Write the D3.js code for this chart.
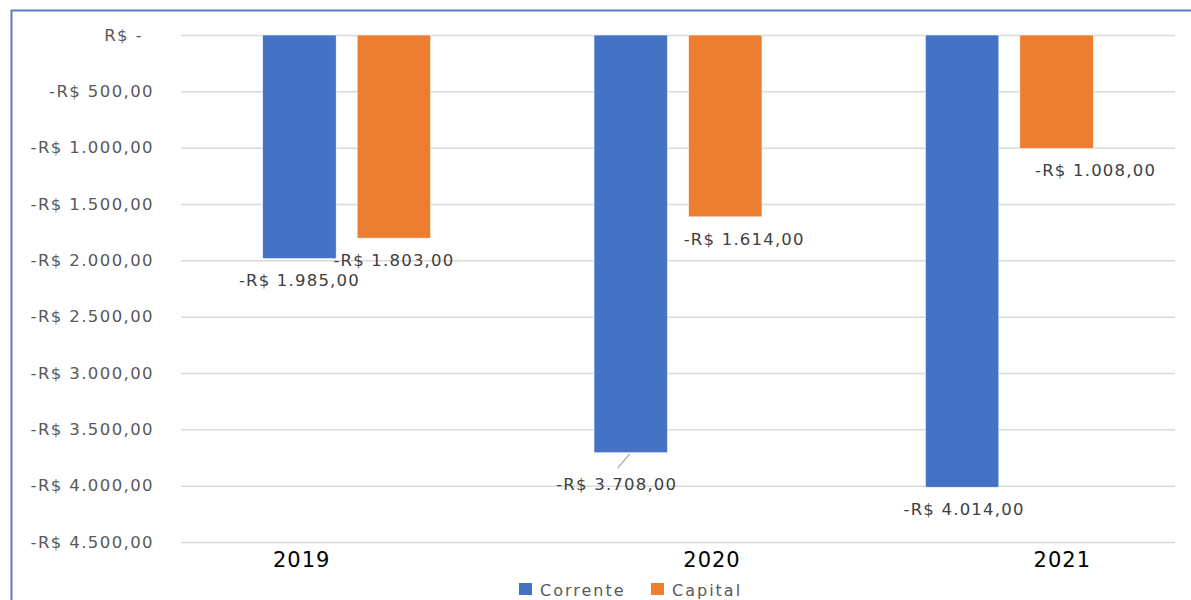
<!DOCTYPE html>
<html>
<head>
<meta charset="utf-8">
<script src="https://cdn.jsdelivr.net/npm/d3@7"></script>
<style>
  body { margin: 0; background: #fff; }
  svg { display: block; font-family: "DejaVu Sans", sans-serif; }
</style>
</head>
<body>
<div id="chart"></div>
<script>
// values
var years = ["2019", "2020", "2021"];
var series = ["Corrente", "Capital"];
var corrente = [-1985, -3708, -4014];
var capital = [-1803, -1614, -1008];
var yTicks = [0, -500, -1000, -1500, -2000, -2500, -3000, -3500, -4000, -4500];
var colors = ["#4472C4", "#ED7D31"];

// label nudges (the original has some labels dragged by hand)
var labelShift = {
  "Corrente-2019": [0, 0], "Capital-2019": [0, 0],
  "Corrente-2020": [-14, 9], "Capital-2020": [19, 0],
  "Corrente-2021": [2, 0], "Capital-2021": [39, 0]
};
var yearShift = [-45, 34, 53];

var width = 1191, height = 600;
var margin = {top: 35, right: 16, bottom: 58, left: 181};

var svg = d3.select("#chart").append("svg")
  .attr("width", width)
  .attr("height", height);

// chart frame (blue border, top and left visible)
svg.append("path")
  .attr("d", "M11.5,600 L11.5,10.5 L1191,10.5")
  .attr("fill", "none")
  .attr("stroke", "#5B7BC6")
  .attr("stroke-width", 2);

var x0 = d3.scaleBand()
  .domain(years)
  .range([margin.left, width - margin.right]);

var x1 = d3.scaleBand()
  .domain(series)
  .range([0, x0.bandwidth()])
  .paddingInner(0.222)
  .paddingOuter(0.864);

var y = d3.scaleLinear()
  .domain([0, -4500])
  .range([margin.top, height - margin.bottom]);

function money(v) {
  if (v === 0) return "R$ -";
  var s = d3.format(",.2f")(Math.abs(v)).replace(/,/g, "#").replace(".", ",").replace(/#/g, ".");
  return (v < 0 ? "-" : "") + "R$ " + s;
}

// gridlines + y labels
var yAxis = svg.append("g")
  .attr("transform", "translate(" + margin.left + ",0)")
  .call(d3.axisLeft(y).tickValues(yTicks).tickSize(-(width - margin.right - margin.left)).tickFormat(money).tickPadding(27));
yAxis.attr("font-family", null).attr("font-size", null);
yAxis.select(".domain").remove();
yAxis.selectAll(".tick line").attr("stroke", "#D9D9D9").attr("stroke-width", 1.5);
yAxis.selectAll(".tick text")
  .attr("fill", "#595959")
  .style("font-size", "16.5px")
  .style("letter-spacing", "1.4px")
  .attr("dx", function(d) { return d === 0 ? -11 : 0; });

var data = [];
years.forEach(function(yr, i) {
  data.push({year: yr, key: "Corrente", value: corrente[i], ci: 0});
  data.push({year: yr, key: "Capital", value: capital[i], ci: 1});
});

var bars = svg.append("g");
bars.selectAll("rect")
  .data(data)
  .enter().append("rect")
  .attr("x", function(d) { return x0(d.year) + x1(d.key); })
  .attr("y", y(0))
  .attr("width", x1.bandwidth())
  .attr("height", function(d) { return y(d.value) - y(0); })
  .attr("fill", function(d) { return colors[d.ci]; })
  .attr("stroke", "#fff")
  .attr("stroke-width", 0.6);

// data labels
var labels = svg.append("g")
  .style("font-size", "16.5px")
  .style("letter-spacing", "1.2px")
  .attr("fill", "#404040")
  .attr("text-anchor", "middle");

data.forEach(function(d) {
  var s = labelShift[d.key + "-" + d.year];
  var cx = x0(d.year) + x1(d.key) + x1.bandwidth() / 2;
  var lx = cx + s[0], ly = y(d.value) + 22 + s[1];
  if (s[1] > 0) {
    // leader line for the moved label
    labels.append("line")
      .attr("x1", cx - 1).attr("y1", y(d.value) + 1)
      .attr("x2", lx + 1).attr("y2", ly - 16)
      .attr("stroke", "#A6A6A6").attr("stroke-width", 1.2);
  }
  labels.append("text")
    .attr("x", lx)
    .attr("y", ly)
    .attr("dy", "0.35em")
    .text(money(d.value));
});

// year labels
svg.append("g").selectAll("text")
  .data(years)
  .enter().append("text")
  .attr("x", function(d, i) { return x0(d) + x0.bandwidth() / 2 + yearShift[i]; })
  .attr("y", 567)
  .attr("text-anchor", "middle")
  .attr("fill", "#000")
  .style("font-size", "21px")
  .style("letter-spacing", "1px")
  .text(function(d) { return d; });

// legend
var legend = svg.append("g").attr("transform", "translate(519,583)");
var lx = [0, 132];
series.forEach(function(s, i) {
  var g = legend.append("g").attr("transform", "translate(" + lx[i] + ",0)");
  g.append("rect").attr("width", 13).attr("height", 12).attr("fill", colors[i]);
  g.append("text")
    .attr("x", 21)
    .attr("y", 13)
    .attr("fill", "#595959")
    .style("font-size", "16px")
    .style("letter-spacing", "2px")
    .text(s);
});
</script>
</body>
</html>
